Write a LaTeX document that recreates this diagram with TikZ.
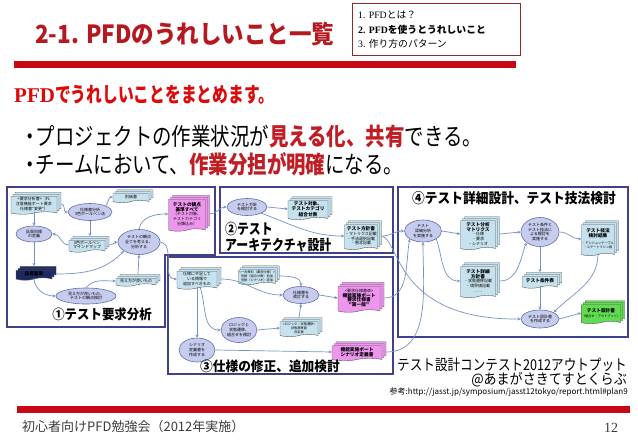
\documentclass[tikz,border=0pt]{standalone}
\usepackage{fontspec}
\setmainfont{Liberation Serif}
\newfontfamily\jp{Noto Sans CJK JP}
\usetikzlibrary{shapes.symbols,shapes.geometric,shadows,arrows.meta}
\definecolor{titlered}{RGB}{182,24,32}
\definecolor{subred}{RGB}{220,10,10}
\definecolor{hired}{RGB}{192,30,36}
\definecolor{barred}{RGB}{200,8,20}
\definecolor{boxred}{RGB}{150,40,40}
\definecolor{panelc}{RGB}{64,64,140}
\definecolor{docfill}{RGB}{198,226,238}
\definecolor{ellfill}{RGB}{198,204,238}
\definecolor{ellline}{RGB}{96,108,170}
\definecolor{pinkfill}{RGB}{238,150,238}
\definecolor{greenfill}{RGB}{96,220,80}
\definecolor{navyfill}{RGB}{28,40,96}
\definecolor{arrowc}{RGB}{118,146,196}
\definecolor{footgray}{RGB}{60,60,60}
\newcommand\smallj{\jp\fontsize{4}{4.7}\selectfont}
\newcommand\tinyj{\jp\fontsize{3.2}{4}\selectfont}
\newcommand\boldj{\jp\bfseries\fontsize{4.7}{5.3}\selectfont}
\newcommand\lblfont[1]{\jp\bfseries\fontsize{#1}{#1}\selectfont}
\tikzset{
  proc/.style={ellipse, draw=ellline, fill=ellfill, line width=0.6pt, inner sep=0pt, align=center, font=\smallj},
  docu/.style={tape, tape bend top=none, tape bend height=2.5pt, draw=black!65, fill=#1, line width=0.4pt,
    inner sep=0.5pt, align=center, font=\smallj,
    copy shadow={shadow xshift=4pt, shadow yshift=4pt, fill=#1, draw=black!65, line width=0.4pt},
    copy shadow={shadow xshift=2pt, shadow yshift=2pt, fill=#1, draw=black!65, line width=0.4pt}},
  docu/.default=docfill,
  panel/.style={draw=panelc, line width=1.4pt, fill=white},
  conn/.style={draw=arrowc, line width=0.7pt, -{Stealth[length=3.2pt,width=3pt]}},
  txt/.style={inner sep=0pt}
}
\begin{document}
\begin{tikzpicture}[x=1pt,y=-1pt]
\useasboundingbox (0,0) rectangle (638,442);
\fill[white] (0,0) rectangle (638,442);

% ---- header ----
\node[txt, anchor=west, text=titlered, font=\jp\bfseries\fontsize{25}{28}\selectfont] (title) at (35,34)
  {\scalebox{0.9}[1]{2-1.\hspace{8pt}PFDのうれしいこと一覧}};
\node[draw=boxred, line width=0.8pt, minimum width=168pt, minimum height=52pt, inner sep=0pt] (idx) at (436,29) {};
\node[txt, anchor=west] (i1) at (358,15) {\fontsize{9.8}{11}\selectfont 1. PFD{\jp とは？}};
\node[txt, anchor=west] (i2) at (358,30) {\fontsize{9.8}{11}\selectfont\bfseries 2. PFD{\jp\bfseries を使うとうれしいこと}};
\node[txt, anchor=west] (i3) at (358,44) {\fontsize{9.8}{11}\selectfont 3. {\jp 作り方のパターン}};
\fill[barred] (14,61) rectangle (516,68);

\node[txt, anchor=west, text=subred] (sub) at (14,95)
  {{\bfseries\fontsize{21}{22}\selectfont PFD}{\jp\bfseries\fontsize{21}{22}\selectfont\scalebox{0.75}[1]{でうれしいことをまとめます。}}};
\node[txt, anchor=west, font=\jp\fontsize{24}{26}\selectfont] (b1) at (25,136)
  {\scalebox{0.81}[1]{\makebox[0.55em][c]{・}プロジェクトの作業状況が{\bfseries\color{hired}見える化、共有}できる。}};
\node[txt, anchor=west, font=\jp\fontsize{24}{26}\selectfont] (b2) at (25,164)
  {\scalebox{0.81}[1]{\makebox[0.55em][c]{・}チームにおいて、{\bfseries\color{hired}作業分担が明確}になる。}};

% ---- panels ----
\draw[panel] (7,187) -- (215,187) -- (215,255) -- (165,255) -- (165,327) -- (7,327) -- cycle;
\draw[panel] (220,187) rectangle (393,253);
\draw[panel] (168,257) rectangle (393,374);
\draw[panel] (398,187) rectangle (628,337);

% ---- panel 1 ----
\node[docu, minimum width=46pt, minimum height=18pt] (d1) at (34,204) {<要求分析書>（FL\\注意機能ポート要求\\仕様書"変更"）};
\node[proc, minimum width=44pt, minimum height=17pt] (e1) at (90,212) {仕様書分析\\3色ボールペン法};
\node[docu, minimum width=36pt, minimum height=9pt] (d2) at (131,197) {別紙書};
\node[proc, minimum width=36pt, minimum height=16pt] (e2) at (34,234) {品質目標\\の定義};
\node[docu, minimum width=36pt, minimum height=12pt] (d3) at (87,245) {3色ボールペン\\マインドマップ};
\node[proc, minimum width=42pt, minimum height=25pt] (e3) at (139,242) {テストの観点\\全てを考える、\\分析する};
\node[docu=pinkfill, minimum width=37pt, minimum height=32pt] (d4) at (187,214)
  {{\boldj テストの観点}\\{\boldj 基準すべて}\\（テスト対象、\\テストカテゴリ\\分類込み）};
\node[docu=navyfill, minimum width=36pt, minimum height=10pt, font=\boldj] (d5) at (34,274) {品質基準};
\node[docu, minimum width=40pt, minimum height=8pt] (d6) at (136,281) {見え方が良いもの};
\node[proc, minimum width=60pt, minimum height=16pt] (e4) at (86,296) {見え方が良いもの、\\テストの観点検討};
\node[txt, font=\lblfont{13.5}] (l1) at (102,314) {\scalebox{0.92}[1]{①テスト要求分析}};

% ---- panel 2 ----
\node[proc, minimum width=40pt, minimum height=17pt] (e5) at (247,207) {テスト方針\\を検討する};
\node[docu, minimum width=40pt, minimum height=19pt, font=\boldj] (d8) at (308,209) {テスト対象、\\テストカテゴリ\\組合せ表};
\node[docu, minimum width=33pt, minimum height=25pt] (d9) at (361,236)
  {{\boldj テスト方針書}\\・マトリクス記載\\・手法選択記載\\・懸念記載};
\node[txt, anchor=west, font=\lblfont{14.5}] (l2a) at (225,229) {\scalebox{0.82}[1]{②テスト}};
\node[txt, anchor=west, font=\lblfont{14.5}] (l2b) at (225,245) {\scalebox{0.82}[1]{アーキテクチャ設計}};

% ---- panel 3 ----
\node[docu, minimum width=40pt, minimum height=18pt] (d7) at (197,279) {仕様に不足して\\いる情報で\\追加すべきもの};
\node[docu, minimum width=35pt, minimum height=15pt, font=\tinyj] (d10) at (257,276) {<一次資料（要求仕様）>\\別紙（組合せ表）追加\\別紙（シナリオ）追加};
\node[proc, minimum width=36pt, minimum height=17pt] (e6) at (301,295) {仕様書を\\改訂する};
\node[docu=pinkfill, minimum width=42pt, minimum height=26pt] (d11) at (359,298)
  {<要求仕様書改>\\{\boldj 機能実施ポート}\\{\boldj 要求仕様書}\\{\boldj "第一版"}};
\node[proc, minimum width=36pt, minimum height=25pt] (e7) at (239,330) {ロジックと\\状態遷移、\\組合せを検討};
\node[docu, minimum width=38pt, minimum height=15pt, font=\tinyj] (d12) at (299,328) {<ロジック／状態遷移>\\状態遷移図\\決定表};
\node[proc, minimum width=36pt, minimum height=24pt] (e8) at (197,350) {シナリオ\\定義書を\\作成する};
\node[docu=pinkfill, minimum width=50pt, minimum height=15pt, font=\boldj] (d13) at (357,352) {機能実施ポート\\シナリオ定義書};
\node[txt, font=\lblfont{13.5}] (l3) at (270,366) {\scalebox{0.94}[1]{③仕様の修正、追加検討}};

% ---- panel 4 ----
\node[txt, font=\lblfont{14}] (l4) at (514,198) {\scalebox{0.91}[1]{④テスト詳細設計、テスト技法検討}};
\node[proc, minimum width=37pt, minimum height=22pt] (e9) at (423,231) {テスト\\詳細分析\\を実施する};
\node[docu, minimum width=35pt, minimum height=29pt] (d14) at (478,234)
  {{\boldj テスト分析}\\{\boldj マトリクス}\\・仕様\\・要求\\・シナリオ};
\node[proc, minimum width=38pt, minimum height=29pt] (e10) at (540,232) {テスト条件と\\テスト技法に\\よる検討を\\実施する};
\node[docu, minimum width=33pt, minimum height=31pt] (d15) at (598,239)
  {{\boldj テスト技法}\\{\boldj 検討結果}\\[2pt]{\tinyj ・デシジョンテーブル}\\{\tinyj ・ステートマシン図}};
\node[docu, minimum width=35pt, minimum height=31pt] (d16) at (478,281)
  {{\boldj テスト詳細}\\{\boldj 方針書}\\・状態遷移記載\\・境界値記載\\……};
\node[docu, minimum width=35pt, minimum height=12pt, font=\boldj] (d17) at (540,281) {テスト条件表};
\node[proc, minimum width=38pt, minimum height=18pt] (e11) at (540,319) {テスト設計書\\を作成する};
\node[docu=greenfill, minimum width=38pt, minimum height=19pt] (d18) at (601,313)
  {{\boldj テスト設計書}\\{\tinyj （組合せ・アウトプット）}};

% ---- connectors ----
\draw[conn] ([xshift=4pt]d1.east) to[out=0,in=180] (e1.west);
\draw[conn] (e1.north east) to[out=50,in=180] (d2.west);
\draw[conn] (e1.south) -- ([xshift=3pt,yshift=4pt]d3.north);
\draw[conn] (d1.south) -- (e2.north);
\draw[conn] (e2.south) -- ([yshift=4pt]d5.north);
\draw[conn] (d3.west) to[out=180,in=0] (e2.east);
\draw[conn] ([xshift=4pt]d3.east) to[out=0,in=190] (e3.west);
\draw[conn] ([xshift=4pt]d5.east) to[out=0,in=225] (e3.south west);
\draw[conn] (d5.south) to[out=-90,in=180] (e4.west);
\draw[conn] (e4.north) to[out=50,in=180] (d6.west);
\draw[conn] ([xshift=2pt,yshift=4pt]d6.north) -- (e3.south);
\draw[conn] (e3.north) to[out=80,in=180] (d4.west);
\draw[conn] (e3.east) to[out=-10,in=180] (d7.west);
\draw[conn] ([xshift=4pt]d4.east) to[out=0,in=180] (e5.west);
\draw[conn] (e5.east) -- (d8.west);
\draw[conn] (e5.south east) to[out=-20,in=180] (d9.west);
\draw[conn] ([xshift=4pt]d9.east) to[out=0,in=180] (e9.west);
\draw[conn] ([xshift=4pt]d9.east) .. controls (400,240) and (395,320) .. (e11.west);
\draw[conn] ([xshift=4pt]d7.east) to[out=0,in=180] (e6.west);
\draw[conn] ([xshift=4pt]d10.east) to[out=0,in=90] (e6.north);
\draw[conn] (e6.east) -- (d11.west);
\draw[conn] ([xshift=3pt]d7.south) to[out=-70,in=180] (e7.west);
\draw[conn] (d7.south) -- (e8.north);
\draw[conn] (e7.east) -- (d12.west);
\draw[conn] ([yshift=4pt]d12.north) -- (e6.south);
\draw[conn] (e8.east) -- (d13.west);
\draw[conn] ([xshift=4pt]d11.east) to[out=0,in=-100] (e9.south west);
\draw[conn] ([xshift=4pt]d13.east) to[out=0,in=-90] (e9.south);
\draw[conn] (e9.east) -- (d14.west);
\draw[conn] ([xshift=4pt]d14.east) -- (e10.west);
\draw[conn] (e10.east) to[out=0,in=180] (d15.west);
\draw[conn] (e9.south east) to[out=-70,in=180] (d16.west);
\draw[conn] ([xshift=4pt]d16.east) to[out=0,in=-110] (e10.south west);
\draw[conn] (e10.south) -- ([yshift=4pt]d17.north);
\draw[conn] (d17.south) -- (e11.north);
\draw[conn] (d15.south) to[out=-90,in=45] (e11.north east);
\draw[conn] (e11.east) -- (d18.west);

% ---- footer ----
\node[txt, anchor=west, font=\jp\fontsize{15}{16}\selectfont] (cr1) at (397,365) {\scalebox{0.84}[1]{テスト設計コンテスト2012アウトプット}};
\node[txt, anchor=east, font=\jp\fontsize{14.5}{15}\selectfont] (cr2) at (627,379.5) {\scalebox{0.9}[1]{@あまがさきてすとくらぶ}};
\node[txt, anchor=east, font=\jp\fontsize{8}{9}\selectfont] (cr3) at (628,392.5) {参考:http://jasst.jp/symposium/jasst12tokyo/report.html\#plan9};
\fill[barred] (17,406) rectangle (630,413);
\node[txt, anchor=west, text=footgray, font=\jp\fontsize{13}{14}\selectfont] (ft) at (22,427) {初心者向けPFD勉強会（2012年実施）};
\node[txt, text=footgray, font=\fontsize{14}{15}\selectfont] (pg) at (611,428) {12};
\end{tikzpicture}
\end{document}
